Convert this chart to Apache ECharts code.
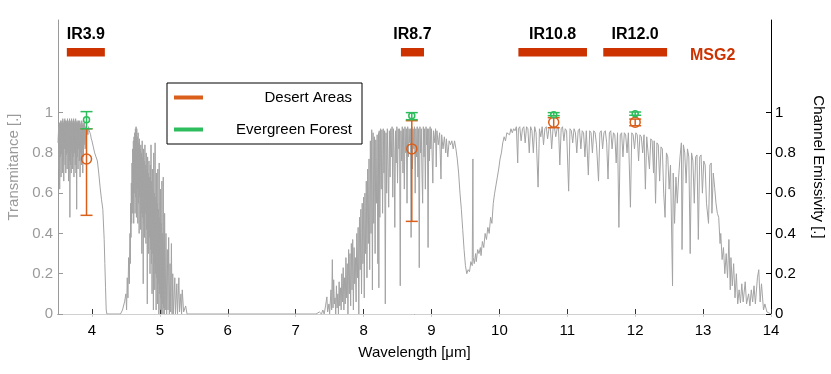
<!DOCTYPE html>
<html><head><meta charset="utf-8">
<script src="https://cdn.jsdelivr.net/npm/echarts@6/dist/echarts.min.js"></script>
<style>html,body{margin:0;padding:0;background:#fff}#c{width:831px;height:374px}</style>
</head><body><div id="c"></div>
<script>
// ---- Transmittance spectrum (wavelength in µm, transmittance) ----
const specWl = [
3.50,3.51,3.515,3.52,3.525,3.53,3.535,3.54,3.545,3.55,3.555,3.56,3.565,3.57,3.575,3.58,3.585,3.59,3.595,3.60,
3.605,3.61,3.615,3.62,3.625,3.63,3.635,3.64,3.645,3.65,3.655,3.66,3.665,3.67,3.675,3.68,3.685,3.69,3.695,3.70,
3.705,3.71,3.715,3.72,3.725,3.73,3.735,3.74,3.745,3.75,3.755,3.76,3.765,3.77,3.775,3.78,3.785,3.79,3.795,3.80,
3.805,3.81,3.815,3.82,3.825,3.83,3.835,3.84,3.845,3.85,3.855,3.86,3.865,3.87,3.875,3.88,3.885,3.89,3.90,3.91,
3.92,3.93,3.94,3.95,3.96,3.97,3.98,3.99,4.00,4.02,4.04,4.06,4.08,4.10,4.12,4.14,4.16,4.18,4.19,4.20,4.21,4.22,
4.42,4.45,4.48,4.50,4.51,4.52,4.53,4.54,4.55,4.56,4.565,4.57,4.575,4.58,4.585,4.59,4.595,4.60,4.605,4.61,4.615,
4.62,4.625,4.63,4.635,4.64,4.645,4.65,4.655,4.66,4.665,4.67,4.675,4.68,4.685,4.69,4.695,4.70,4.705,4.71,4.715,
4.72,4.725,4.73,4.735,4.74,4.745,4.75,4.755,4.76,4.765,4.77,4.775,4.78,4.785,4.79,4.795,4.80,4.805,4.81,4.815,
4.82,4.825,4.83,4.835,4.84,4.845,4.85,4.855,4.86,4.865,4.87,4.875,4.88,4.885,4.89,4.895,4.90,4.905,4.91,4.915,
4.92,4.925,4.93,4.935,4.94,4.945,4.95,4.955,4.96,4.965,4.97,4.975,4.98,4.985,4.99,4.995,5.00,5.005,5.01,5.015,
5.02,5.025,5.03,5.035,5.04,5.045,5.05,5.055,5.06,5.065,5.07,5.08,5.09,5.10,5.11,5.12,5.13,5.14,5.15,5.16,5.17,
5.18,5.19,5.20,5.22,5.23,5.25,5.26,5.28,5.29,5.31,5.32,5.33,5.35,5.38,5.40,
7.30,7.35,7.38,7.40,7.42,7.44,7.46,7.47,7.49,7.50,7.52,7.53,7.54,7.55,7.56,7.57,7.58,7.59,7.60,7.61,7.62,7.63,
7.64,7.65,7.66,7.67,7.68,7.69,7.70,7.71,7.72,7.73,7.74,7.75,7.76,7.77,7.78,7.79,7.80,7.81,7.82,7.83,7.84,7.85,
7.86,7.87,7.88,7.89,7.90,7.91,7.92,7.93,7.94,7.95,7.96,7.97,7.98,7.99,8.00,8.01,8.02,8.03,8.04,8.05,8.06,8.07,
8.08,8.09,8.10,8.11,8.12,8.13,8.14,8.15,8.16,8.17,8.18,8.19,8.20,8.21,8.22,8.225,8.23,8.24,8.25,8.26,8.27,8.28,
8.29,8.30,8.31,8.32,8.33,8.34,8.35,8.36,8.37,8.38,8.39,8.40,8.41,8.42,8.43,8.44,8.45,8.46,8.47,8.48,8.49,8.50,
8.51,8.52,8.53,8.54,8.55,8.56,8.57,8.58,8.59,8.60,8.61,8.62,8.63,8.64,8.65,8.66,8.67,8.68,8.69,8.70,8.71,8.72,
8.73,8.74,8.75,8.76,8.77,8.78,8.79,8.80,8.81,8.82,8.83,8.84,8.85,8.86,8.87,8.88,8.89,8.90,8.91,8.92,8.93,8.94,
8.95,8.96,8.97,8.98,8.99,9.00,9.02,9.03,9.05,9.06,9.07,9.08,9.10,9.12,9.14,9.15,9.17,9.19,9.21,9.22,9.24,9.26,
9.28,9.30,9.32,9.34,9.36,9.38,9.40,9.42,9.44,9.46,9.48,9.50,9.52,9.54,9.56,9.58,9.60,9.61,9.615,9.63,9.65,9.66,
9.68,9.70,9.72,9.73,9.75,9.77,9.79,9.81,9.83,9.85,9.87,9.89,9.91,9.93,9.95,9.97,9.99,10.01,10.03,10.05,10.07,
10.09,10.11,10.13,10.15,10.17,10.19,10.21,10.23,10.25,10.27,10.28,10.30,10.32,10.34,10.36,10.38,10.40,10.42,
10.44,10.46,10.48,10.50,10.52,10.54,10.57,10.59,10.61,10.63,10.65,10.67,10.69,10.71,10.73,10.75,10.77,10.79,
10.81,10.83,10.85,10.87,10.89,10.91,10.93,10.95,10.97,10.99,11.02,11.04,11.06,11.08,11.10,11.12,11.14,11.16,
11.18,11.20,11.22,11.24,11.26,11.28,11.31,11.33,11.35,11.37,11.39,11.41,11.43,11.46,11.48,11.50,11.52,11.54,
11.56,11.58,11.60,11.62,11.64,11.66,11.68,11.70,11.72,11.74,11.76,11.78,11.80,11.82,11.84,11.86,11.88,11.90,
11.93,11.95,11.97,11.99,12.01,12.03,12.05,12.07,12.09,12.11,12.13,12.15,12.17,12.19,12.21,12.23,12.25,12.27,
12.28,12.30,12.32,12.34,12.36,12.38,12.40,12.42,12.44,12.46,12.48,12.50,12.52,12.55,12.56,12.58,12.60,12.62,
12.64,12.66,12.68,12.69,12.71,12.73,12.75,12.77,12.79,12.81,12.83,12.85,12.87,12.89,12.91,12.93,12.95,12.97,
12.99,13.01,13.03,13.05,13.08,13.10,13.12,13.13,13.15,13.17,13.19,13.21,13.23,13.25,13.26,13.28,13.30,13.32,
13.34,13.36,13.38,13.40,13.41,13.43,13.45,13.47,13.49,13.51,13.53,13.55,13.57,13.59,13.62,13.64,13.67,13.69,
13.71,13.73,13.75,13.77,13.80,13.82,13.84,13.86,13.89,13.91,13.94,13.97,14.00
];
const specT = [
0.85,0.93,0.72,0.95,0.62,0.94,0.78,0.96,0.68,0.95,0.80,0.96,0.70,0.97,0.76,0.95,0.66,0.96,0.82,0.97,
0.74,0.96,0.70,0.95,0.79,0.96,0.72,0.97,0.80,0.95,0.66,0.96,0.76,0.97,0.48,0.95,0.74,0.96,0.70,0.97,
0.80,0.95,0.72,0.96,0.78,0.97,0.68,0.95,0.80,0.96,0.74,0.97,0.70,0.95,0.52,0.96,0.78,0.95,0.72,0.96,
0.82,0.95,0.76,0.96,0.68,0.94,0.80,0.95,0.74,0.96,0.82,0.94,0.70,0.95,0.78,0.94,0.84,0.95,0.82,0.93,
0.88,0.92,0.89,0.93,0.91,0.90,0.89,0.87,0.86,0.83,0.80,0.78,0.76,0.70,0.63,0.57,0.52,0.37,0.25,0.13,0.02,0.00,
0.00,0.02,0.06,0.10,0.02,0.18,0.08,0.28,0.15,0.40,0.25,0.55,0.38,0.65,0.45,0.75,0.50,0.82,0.55,0.86,0.45,
0.88,0.60,0.90,0.50,0.92,0.58,0.93,0.48,0.92,0.62,0.88,0.45,0.90,0.55,0.85,0.40,0.87,0.58,0.82,0.42,
0.84,0.50,0.80,0.30,0.86,0.48,0.78,0.15,0.82,0.45,0.76,0.38,0.84,0.50,0.74,0.35,0.80,0.42,0.72,0.05,
0.78,0.40,0.70,0.30,0.76,0.38,0.68,0.20,0.74,0.32,0.84,0.25,0.66,0.10,0.72,0.30,0.62,0.02,0.80,0.25,
0.60,0.12,0.85,0.20,0.58,0.02,0.70,0.18,0.55,0.05,0.72,0.15,0.52,0.00,0.75,0.10,0.48,0.02,0.62,0.08,
0.45,0.00,0.66,0.05,0.40,0.00,0.68,0.03,0.35,0.00,0.50,0.02,0.40,0.00,0.32,0.02,0.38,0.00,0.25,0.01,0.35,
0.00,0.20,0.00,0.18,0.00,0.15,0.00,0.18,0.01,0.10,0.00,0.12,0.01,0.04,0.00,
0.00,0.01,0.00,0.02,0.00,0.04,0.085,0.01,0.05,0.00,0.12,0.02,0.27,0.03,0.17,0.05,0.08,0.00,0.14,0.03,0.10,0.00,
0.16,0.04,0.13,0.02,0.20,0.06,0.23,0.02,0.18,0.05,0.28,0.08,0.25,0.00,0.32,0.10,0.30,0.04,0.35,0.12,0.37,0.02,
0.33,0.15,0.28,0.06,0.40,0.18,0.43,0.00,0.48,0.22,0.52,0.10,0.55,0.25,0.58,0.08,0.60,0.30,0.66,0.18,0.72,0.35,
0.77,0.22,0.86,0.40,0.915,0.12,0.90,0.45,0.88,0.30,0.865,0.55,0.89,0.25,0.90,0.13,0.91,0.48,0.92,0.62,0.915,0.50,
0.92,0.70,0.91,0.05,0.90,0.60,0.92,0.72,0.53,0.91,0.68,0.92,0.78,0.93,0.58,0.92,0.80,0.43,0.91,0.75,0.93,0.65,
0.92,0.82,0.92,0.14,0.91,0.76,0.93,0.70,0.92,0.62,0.93,0.80,0.92,0.55,0.93,0.78,0.92,0.85,0.92,0.38,0.93,0.72,
0.92,0.82,0.93,0.60,0.92,0.78,0.93,0.68,0.92,0.23,0.93,0.80,0.92,0.70,0.55,0.93,0.78,0.92,0.62,0.93,0.84,0.92,
0.33,0.92,0.76,0.93,0.82,0.92,0.65,0.91,0.85,0.92,0.73,0.91,0.84,0.90,0.67,0.89,0.82,0.88,0.80,0.87,0.78,0.86,
0.84,0.86,0.82,0.86,0.82,0.77,0.70,0.60,0.52,0.42,0.32,0.24,0.20,0.22,0.21,0.26,0.24,0.77,0.28,0.25,0.30,0.26,
0.32,0.30,0.33,0.29,0.36,0.33,0.40,0.37,0.43,0.40,0.48,0.45,0.55,0.60,0.64,0.68,0.72,0.77,0.80,0.85,0.88,
0.86,0.90,0.905,0.89,0.92,0.90,0.92,0.91,0.93,0.75,0.92,0.93,0.86,0.92,0.93,0.85,0.93,0.92,
0.80,0.93,0.91,0.80,0.93,0.90,0.63,0.92,0.88,0.93,0.84,0.92,0.93,0.87,0.92,0.93,0.82,0.92,
0.93,0.88,0.92,0.93,0.74,0.92,0.93,0.86,0.92,0.91,0.61,0.92,0.91,0.85,0.92,0.90,0.80,0.91,
0.92,0.82,0.91,0.90,0.78,0.91,0.69,0.91,0.90,0.80,0.91,0.90,0.84,0.66,0.90,0.91,0.82,0.90,
0.91,0.85,0.67,0.90,0.91,0.82,0.90,0.89,0.75,0.90,0.43,0.89,0.90,0.78,0.90,0.89,0.80,0.90,
0.53,0.90,0.89,0.82,0.90,0.89,0.76,0.89,0.88,0.80,0.89,0.62,0.88,0.88,0.72,0.87,0.86,0.70,
0.86,0.55,0.85,0.84,0.66,0.83,0.82,0.60,0.48,0.80,0.78,0.62,0.74,0.14,0.70,0.45,0.68,0.55,
0.68,0.78,0.85,0.32,0.84,0.80,0.65,0.82,0.78,0.30,0.80,0.76,0.55,0.78,0.79,0.37,0.78,0.79,
0.60,0.76,0.74,0.55,0.45,0.74,0.75,0.50,0.70,0.63,0.55,0.50,0.48,0.35,0.40,0.27,0.33,0.20,
0.30,0.18,0.37,0.12,0.28,0.14,0.25,0.08,0.20,0.05,0.12,0.055,0.15,0.06,0.16,0.05,0.10,0.04,
0.12,0.06,0.14,0.05,0.18,0.22,0.06,0.15,0.02,0.05,0.01,0.005,0.00
];
// ---- Axis ticks ----
const xTicks = [4,5,6,7,8,9,10,11,12,13,14];
const yTicks = [0,0.2,0.4,0.6,0.8,1];
// ---- MSG2 channels ----
const channelNames = ['IR3.9','IR8.7','IR10.8','IR12.0'];
const channelStart = [3.63,8.55,10.28,11.53];
const channelEnd   = [4.19,8.89,11.29,12.47];
// ---- Channel emissivity (error bars) ----
const pointWl      = [3.92,8.71,10.80,12.00];
const desertMean   = [0.77,0.82,0.952,0.952];
const desertLow    = [0.49,0.46,0.925,0.935];
const desertHigh   = [0.92,0.96,0.975,0.968];
const forestMean   = [0.965,0.985,0.99,0.995];
const forestLow    = [0.92,0.965,0.985,0.987];
const forestHigh   = [1.005,1.0,1.0,1.003];

const FONT = "'Liberation Sans', Arial, sans-serif";
const ORANGE = '#d95f1a', GREEN = '#2dbd5c', RED = '#cc3300';

function errRender(r, color){
  return function(params, api){
    const x = api.value(0);
    const lo = api.coord([x, api.value(1)]);
    const hi = api.coord([x, api.value(2)]);
    const m  = api.coord([x, api.value(3)]);
    const cw = 6;
    const st = {stroke: color, lineWidth: 1.5};
    return {type:'group', children:[
      {type:'line', shape:{x1:lo[0],y1:lo[1],x2:hi[0],y2:hi[1]}, style:st},
      {type:'line', shape:{x1:lo[0]-cw,y1:lo[1],x2:lo[0]+cw,y2:lo[1]}, style:st},
      {type:'line', shape:{x1:hi[0]-cw,y1:hi[1],x2:hi[0]+cw,y2:hi[1]}, style:st},
      {type:'circle', shape:{cx:m[0],cy:m[1],r:r}, style:{stroke:color,lineWidth:1.5,fill:'none'}}
    ]};
  };
}

const chart = echarts.init(document.getElementById('c'), null, {renderer:'canvas'});
chart.setOption({
  animation:false,
  backgroundColor:'#fff',
  textStyle:{fontFamily:FONT},
  grid:{left:58, right:60, top:20, bottom:60, outerBoundsMode:'none'},
  legend:{
    data:[{name:'Desert Areas', itemStyle:{color:ORANGE}},{name:'Evergreen Forest', itemStyle:{color:GREEN}}],
    orient:'vertical', left:167, top:83,
    icon:'rect', itemWidth:29, itemHeight:4, itemGap:17,
    padding:[7,10,7,7],
    borderColor:'#000', borderWidth:1, backgroundColor:'#fff',
    formatter: n => '{r|' + n + '}',
    textStyle:{fontFamily:FONT, fontSize:15, color:'#000', rich:{r:{width:144, align:'right', fontSize:15, fontFamily:FONT, color:'#000'}}}
  },
  graphic:[{type:'text', left:690, top:48, style:{text:'MSG2', fill:RED, font:"bold 16px 'Liberation Sans', Arial, sans-serif"}}],
  xAxis:[{
    type:'value', min:3.5, max:14, position:'bottom',
    name:'Wavelength [μm]', nameLocation:'middle', nameGap:31,
    nameTextStyle:{fontSize:15, color:'#000', fontFamily:FONT},
    axisLine:{show:true, lineStyle:{color:'#333', width:1}},
    axisTick:{show:true, inside:true, length:5, customValues:xTicks, lineStyle:{color:'#333'}},
    axisLabel:{customValues:xTicks, fontSize:15, color:'#000', margin:9, fontFamily:FONT},
    splitLine:{show:false}
  },{
    type:'value', min:3.5, max:14, position:'top',
    axisLine:{show:true, lineStyle:{color:'#d0d0d0'}},
    axisTick:{show:true, inside:true, length:3, customValues:xTicks, lineStyle:{color:'#d0d0d0'}},
    axisLabel:{show:false}, splitLine:{show:false}
  }],
  yAxis:[{
    type:'value', min:0, max:1.46, position:'left',
    name:'Transmitance [.]', nameLocation:'middle', nameGap:37,
    nameTextStyle:{fontSize:15, color:'#9a9a9a', fontFamily:FONT},
    axisLine:{show:true, lineStyle:{color:'#9a9a9a'}},
    axisTick:{show:true, inside:true, length:5, customValues:yTicks, lineStyle:{color:'#9a9a9a'}},
    axisLabel:{customValues:yTicks, fontSize:15, color:'#9a9a9a', margin:5, fontFamily:FONT},
    splitLine:{show:false}
  },{
    type:'value', min:0, max:1.46, position:'right',
    name:'Channel Emissivity [.]', nameLocation:'middle', nameGap:40, nameRotate:-90,
    nameTextStyle:{fontSize:15, color:'#000', fontFamily:FONT},
    axisLine:{show:true, lineStyle:{color:'#000'}},
    axisTick:{show:true, inside:true, length:5, customValues:yTicks, lineStyle:{color:'#000'}},
    axisLabel:{customValues:yTicks, fontSize:15, color:'#000', margin:4, fontFamily:FONT},
    splitLine:{show:false}
  }],
  series:[
    {
      name:'Transmittance', type:'line', xAxisIndex:0, yAxisIndex:0,
      data: specWl.map((w,i)=>[w, specT[i]]),
      showSymbol:false, symbol:'none', smooth:false,
      lineStyle:{color:'#a3a3a3', width:1}, z:1
    },
    {
      name:'MSG2 channels', type:'custom', xAxisIndex:0, yAxisIndex:0,
      data: channelNames.map((n,i)=>[channelStart[i], channelEnd[i], n]),
      encode:{x:[0,1]},
      renderItem:function(params, api){
        const s = api.value(0), e = api.value(1);
        const name = channelNames[params.dataIndex];
        const a = api.coord([s, 1.321]);
        const b = api.coord([e, 1.279]);
        const t = api.coord([(s+e)/2, 1.386]);
        return {type:'group', children:[
          {type:'rect', shape:{x:a[0], y:a[1], width:b[0]-a[0], height:b[1]-a[1]}, style:{fill:RED}},
          {type:'text', x:t[0], y:t[1], style:{text:name, fill:'#000', align:'center', verticalAlign:'middle', font:"bold 16px 'Liberation Sans', Arial, sans-serif"}}
        ]};
      }, z:3
    },
    {
      name:'Desert Areas', type:'custom', xAxisIndex:0, yAxisIndex:0,
      itemStyle:{color:ORANGE},
      data: pointWl.map((w,i)=>[w, desertLow[i], desertHigh[i], desertMean[i]]),
      encode:{x:0, y:[1,2,3]},
      renderItem: errRender(5, ORANGE), z:4
    },
    {
      name:'Evergreen Forest', type:'custom', xAxisIndex:0, yAxisIndex:0,
      itemStyle:{color:GREEN},
      data: pointWl.map((w,i)=>[w, forestLow[i], forestHigh[i], forestMean[i]]),
      encode:{x:0, y:[1,2,3]},
      renderItem: errRender(3, GREEN), z:5
    }
  ]
});
</script></body></html>
